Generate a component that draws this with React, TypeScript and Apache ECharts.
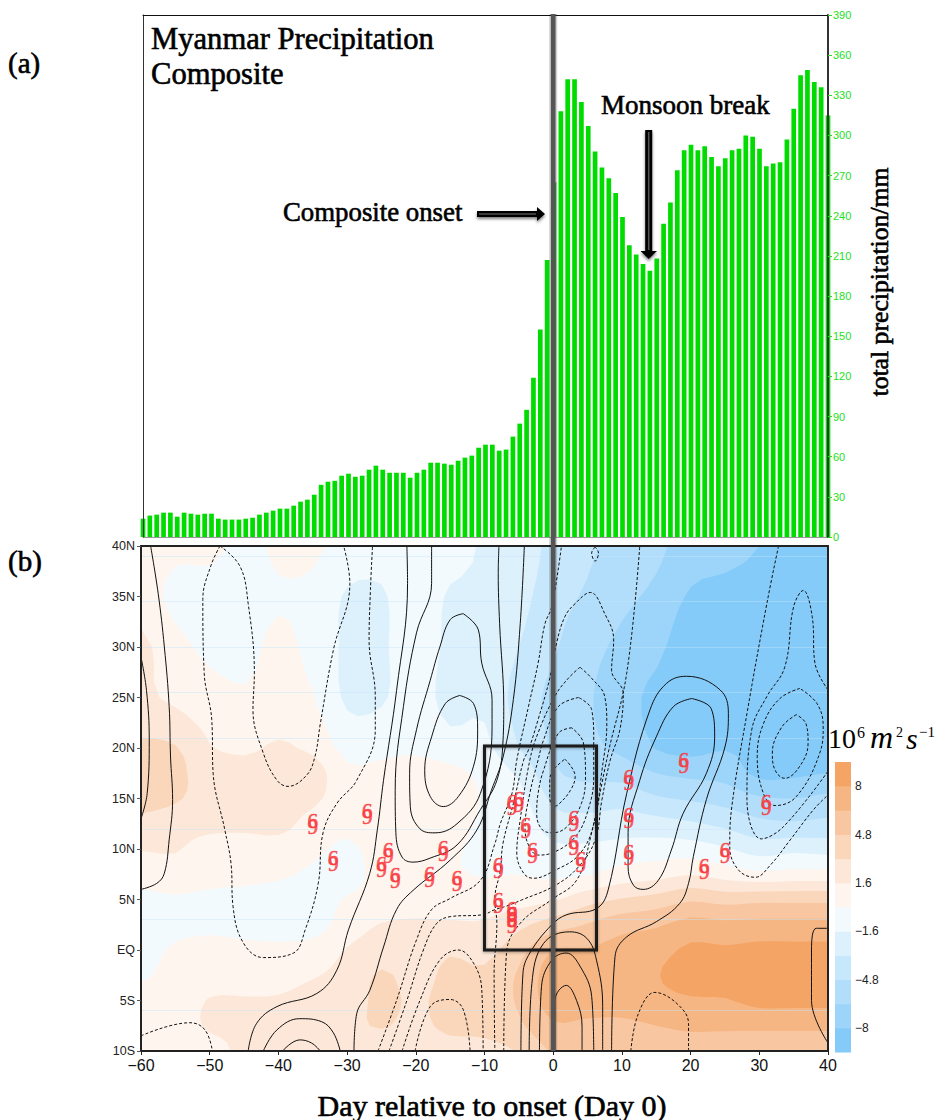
import React, { useEffect, useRef } from "react";
import * as echarts from "echarts";

const rainDays: number[] = [];
for (let d = -60; d <= 40; d++) rainDays.push(d);
const rainValues = [
  13.7, 16, 16.7, 18.2, 18.2, 15.2, 18.2, 17.4, 16.7, 17.4, 17.4, 13.7, 13, 13, 13, 13.7, 14.4, 16.7, 18.2, 19.7,
  21.2, 21.2, 23.4, 26.4, 27.9, 31.6, 39, 41.3, 42, 45.8, 47.3, 45, 45.8, 50.3, 53.3, 50.3, 48, 48, 48, 44.3,
  48, 50.3, 55.5, 55.5, 54.8, 54, 57, 59.3, 60.8, 66.7, 69, 69, 64.5, 65.3, 75, 84.7,
  95, 119, 155, 207, 265, 318, 342, 342, 325, 307, 288, 276, 268, 257, 239, 218, 211, 204, 199, 208,
  234, 250, 274, 289, 293, 289, 292, 284, 277, 283, 289, 290, 300, 299, 290, 277, 279, 280, 297, 320, 345, 349, 340, 336, 315,
];

const shadingLevels = [-100, -8, -6.4, -4.8, -3.2, -1.6, 0, 1.6, 3.2, 4.8, 6.4, 8];
const shadingColors = ["#84CBFA", "#9DD5FA", "#B2DEFB", "#C7E7FC", "#DDF1FD", "#F3FAFE", "#FEF5EF", "#FCE7D8", "#FAD6BA", "#F8C6A0", "#F6B683", "#F4A566"];
const colorbarLabels = [-8, -4.8, -1.6, 1.6, 4.8, 8];

const shadingLats = [40, 35, 30, 25, 20, 17.5, 15, 12.5, 10, 7.5, 5, 2.5, 0, -2.5, -5, -7.5, -10];
const shadingDays = [-60, -55, -50, -45, -40, -35, -30, -25, -20, -15, -10, -5, 0, 5, 10, 15, 20, 25, 30, 35, 40];
const shadingByDay = [
  [0.8, 0.8, 2, 2, 3.5, 4, 4, 2.6, 1.7, 0.5, -0.3, -0.6, -0.5, -0.2, 0.5, 0.5, 0.5],
  [0.3, -0.4, 0.5, 1.2, 3.3, 3.5, 3.4, 2.2, 1.7, 1, -0.2, -0.4, 0.2, 0.5, 0.7, 0.8, 0.8],
  [0.3, -0.5, -0.3, 0.6, 1.7, 2.6, 2.5, 2, 1, 0.5, -0.3, -0.3, 0.5, 0.8, 1.7, 1.8, 0.9],
  [-0.3, -0.5, -0.4, 0.2, 1.3, 2.2, 2.4, 2, 0.8, 0.3, -0.3, -0.5, 0.4, 1, 1.7, 2, 2],
  [0.2, -0.1, 0.3, 0.6, 1.8, 2.5, 2.5, 2.2, 0.8, 0.2, -0.5, -0.5, 0.3, 1.2, 1.7, 2.2, 2.2],
  [0.3, -0.4, -0.4, 0.1, 1.2, 2.4, 2, 0.9, 0.3, -0.2, -0.5, -0.6, 0.6, 1.5, 2, 2.4, 2.2],
  [-0.6, -1.8, -1.9, -1.9, -0.5, 0.3, 0.6, 0.3, -0.2, -0.4, 0.1, 0.7, 1.7, 2.1, 2.5, 2.8, 2.3],
  [-0.5, -1.9, -1.9, -1.8, -0.5, 0.5, 1, 0.8, 0.5, 0.4, 0.5, 1.7, 2.4, 3.4, 3.5, 3.3, 2.5],
  [-0.3, -0.2, -0.5, -0.8, -0.3, 0.8, 1.2, 1, 0.6, 0.6, 1, 1.8, 2.4, 2.6, 3, 2.8, 2.2],
  [-0.5, -1.9, -2, -2.2, -1, 0.5, 1.2, 1, 0.3, 0.2, 0.8, 1.8, 3, 3.6, 3.7, 3.6, 2.5],
  [-1.9, -1.9, -1.8, -1.9, -1.2, -0.5, -0.2, -0.4, -0.5, -0.1, 0.8, 1.8, 2.7, 3.5, 3.9, 3.6, 2.8],
  [-2, -2.6, -3.2, -3.9, -3.2, -1.9, -1, -0.6, -0.4, 0, 1, 2.8, 4.2, 5, 5, 4.5, 3.3],
  [-3.8, -4.2, -4.6, -5.2, -5, -4.5, -3.6, -2.4, -1.3, -0.3, 1.4, 4, 6.4, 7.2, 7.2, 6.2, 5],
  [-4.6, -5, -5.8, -6.2, -6, -5.2, -4, -2.6, -1.3, -0.1, 2.6, 4.9, 6.5, 7, 7.2, 6, 4.8],
  [-5.2, -6, -6.8, -7.4, -6.8, -5.4, -3.8, -2.4, -1, 0.7, 3.3, 5.8, 7, 7.4, 7.2, 6, 5],
  [-6, -6.8, -7.6, -8.4, -8.1, -6.4, -4.6, -2.6, -0.8, 1, 3.8, 6.2, 7.4, 7.9, 7.5, 6.4, 5],
  [-7.2, -8.2, -9, -9, -8.5, -6.8, -5, -3, -0.8, 1.5, 4.6, 7, 8.3, 8.8, 7.8, 6.8, 5.2],
  [-7.6, -8.4, -9, -9, -8.1, -7, -5.4, -3.6, -1.4, 0.9, 4.2, 6.8, 8.2, 8.7, 7.9, 6.8, 5],
  [-8, -8.6, -9, -9.2, -8.6, -8.4, -6.2, -4.4, -2.3, 0.4, 4.4, 6.9, 8.4, 8.9, 8.4, 6.8, 5],
  [-8.6, -8.8, -9, -9.2, -9, -8.3, -6.4, -4.6, -2, 0.6, 4.4, 6.9, 8.4, 8.9, 8.4, 6.8, 5],
  [-8.6, -8.8, -9, -9.2, -8.8, -8, -6, -4.4, -2.2, 0.6, 4.4, 6.9, 8.4, 8.9, 8.4, 6.8, 5],
];

const solidContours: number[][][] = [
  [[-58.6, 40], [-57.5, 35.3], [-56.6, 30], [-55.9, 24.1], [-55.7, 19.1], [-55.4, 14.9], [-55.9, 10.9], [-56.6, 7.6], [-57.7, 6.6], [-60, 6]],
  [[-60, 29], [-59.2, 25.7], [-58.8, 20.8], [-59.1, 15.5], [-60, 13]],
  [[-21.3, 40], [-21.2, 36.3], [-22.8, 25.7], [-24.7, 16.8], [-25.6, 11.9], [-26.7, 7.6], [-29.8, 2], [-31.5, -2], [-34.4, -4.3], [-40.2, -5.6], [-43.2, -7.3], [-44.4, -10]],
  [[-17.7, 40], [-17.7, 36.3], [-19.9, 31.4], [-21.8, 24.1], [-23, 15.8], [-22.9, 11.6], [-22, 9.2], [-20.4, 8.7], [-17.9, 9.1], [-14, 10.4], [-10.6, 13.9], [-8.2, 16.8], [-7.3, 20.8], [-7.2, 24.1], [-7.8, 32.3], [-8, 37.3], [-7.9, 40]],
  [[-13.1, 33.3], [-15, 32.7], [-16.5, 30], [-17.9, 26.7], [-19.9, 21.8], [-20.9, 17.5], [-20.8, 14.2], [-19.4, 12], [-17.2, 11.6], [-14, 12.5], [-10.6, 15.5], [-8.9, 22.1], [-8.9, 24.8], [-10.4, 28.4], [-10.9, 31.7], [-13.1, 33.3]],
  [[-13.6, 25.2], [-15.7, 24.4], [-17.7, 21.1], [-18.7, 17.8], [-17.9, 15.2], [-16, 14.2], [-13.8, 15.2], [-11.6, 18.2], [-11, 21.8], [-11.6, 24.4], [-13.6, 25.2]],
  [[-4.2, 40], [-4.8, 32.3], [-5.8, 24.8], [-7.3, 19.1], [-9, 15.8], [-11.1, 11.9], [-15, 8.9], [-20.4, 5.9], [-22.8, 4], [-24.7, 0.3], [-26.7, -4], [-28.6, -6.3], [-29, -10]],
  [[-42.2, -10], [-40.2, -7.9], [-36.9, -6.8], [-33.7, -7.1], [-32, -8.2], [-31, -10]],
  [[-39.4, -10], [-36.9, -8.9], [-35.2, -9.2], [-33.9, -10]],
  [[-4.7, -10], [-4.4, -2.3], [-3.4, -0.3], [-0.2, 2.5], [2, 3.5], [6.3, 4.1], [8, 5.95], [10.7, 15.5], [14.1, 23.8], [16.5, 26.4], [19.4, 27.1], [24.3, 25.75], [25.5, 23.4], [25, 20.1], [22.3, 14.9], [20.4, 9.25], [19.7, 6.6], [18.4, 4.6], [15, 2.8], [10.7, 1.3], [9, -0.65], [8.5, -10]],
  [[20.15, 24.9], [17.5, 24.1], [15, 21.1], [12.6, 16.8], [10.9, 11.6], [10.9, 8.3], [11.7, 6.4], [13.1, 6], [15.3, 6.9], [17.2, 9.9], [18.9, 13.5], [22.3, 17.5], [23.5, 21.1], [23, 23.9], [20.15, 24.9]],
  [[-3.5, -10], [-3.1, -3.3], [-1.4, 0.65], [2.4, 1.8], [4.9, 1.15], [6.3, -1], [7.2, -5.6], [7.2, -10]],
  [[-2, -10], [-1.7, -3.6], [-0.2, -1], [1.9, -0.3], [3.9, -1.6], [5.6, -4.6], [5.9, -10]],
  [[0.25, -10], [0.25, -5], [1.9, -3.5], [3.4, -5], [4.2, -7.6], [4.2, -10]],
  [[40, 2.15], [38.3, 2.15], [37.6, 0], [37.6, -5], [40, -9.2]],
];

const dashedContours: number[][][] = [
  [[-48.5, 40], [-49.8, 38.1], [-51, 34.7], [-50.8, 27.4], [-49.7, 22.8], [-49.5, 17.5], [-47.8, 11.9], [-46.9, 8.6], [-46.6, 4.3], [-45.1, 0.7], [-42.2, -0.75], [-37.8, -0.3], [-36.1, 2], [-34.2, 6.6], [-33.5, 11.6], [-31.5, 14.5], [-28.6, 16.8], [-25.9, 21.8], [-25.9, 25.1], [-26.8, 30.7], [-26.6, 35.7], [-26.3, 40]],
  [[-48.5, 40], [-45.6, 38], [-44.4, 34.3], [-43.5, 27.4], [-43.7, 23.8], [-42.2, 19.5], [-40.2, 16.8], [-38.6, 16.2], [-35.9, 17.3], [-34.7, 19.1], [-33.9, 22.4], [-32, 29.7], [-29.6, 36.3], [-30.5, 40]],
  [[-60, -8.5], [-52.9, -7.2], [-50.7, -7.9], [-49.6, -10]],
  [[-25.5, -10], [-22.8, -5], [-19.9, 1], [-17.7, 4], [-15, 5.1], [-10.6, 6.9], [-8.5, 10.5], [-7.7, 12.5], [-6, 15.5], [-5.3, 18.8], [-3.6, 24.1], [-2.2, 28.4], [-1.2, 32.3], [-0.2, 34], [1.2, 40]],
  [[-23.9, -10], [-21.3, -5], [-18.9, 0], [-17, 2.6], [-15, 3.3], [-10.2, 3.5], [-8.5, 4], [-7, 4.3], [-4.6, 4.95], [0.3, 6.4], [3.7, 8.25], [6.1, 10.9], [7.1, 14.9], [8.3, 18.8], [9.7, 21.8], [10.2, 25.4], [8.5, 27.7], [8.8, 30.7], [7.5, 33.3], [5.4, 35.4], [3.2, 34.3], [1.7, 33], [0.5, 30.4], [-0.5, 26.9], [-2.2, 22.8], [-3.6, 19.8], [-4.3, 18.8], [-5.8, 14.5], [-7.3, 10.6], [-7.7, 7.9], [-8.5, 5], [-8.2, 2.6], [-8.6, -2.3], [-8.5, -10]],
  [[3.9, 28], [2.2, 26.9], [0.3, 25.2], [-2.2, 21.5], [-3.4, 18.8], [-4.8, 12.9], [-5.3, 9.6], [-4.3, 7.6], [-2.9, 7.1], [0.3, 7.9], [3.7, 9.4], [5.8, 12.2], [7.1, 17.8], [7.8, 22.4], [7.5, 25.1], [5.6, 26.9], [3.9, 28]],
  [[3.7, 25], [0.75, 24.1], [-1.4, 20.8], [-2.2, 18.8], [-3.4, 15.5], [-4.1, 12.2], [-3.6, 10.4], [-2.2, 9.4], [-0.2, 9.6], [3.2, 11.2], [5.1, 13.9], [5.9, 17.2], [5.9, 20.8], [5.6, 23.8], [3.7, 25]],
  [[2.7, 22], [0.75, 21.45], [-1.4, 17.8], [-2.2, 15.5], [-2.4, 13.5], [-1.7, 12], [-0.2, 11.6], [2, 12.2], [4.1, 14.5], [4.7, 17.2], [4.4, 20.5], [2.7, 22]],
  [[1.7, 18.9], [3.2, 17.2], [2.5, 15.8], [0.75, 14.4], [0, 14.2], [-0.5, 15.2], [-0.5, 16.8], [0, 17.8], [1.7, 18.9]],
  [[-7.2, -10], [-6.8, -0.3], [-4.8, 2.65], [-0.2, 5], [3.4, 6.9], [5.35, 10.9], [8, 19.5], [10.7, 27.4], [12.6, 40]],
  [[6.1, 39.9], [5.6, 39.3], [6.1, 38.5], [6.6, 39.3], [6.1, 39.9]],
  [[-22, -10], [-19.4, -5], [-16.5, -1], [-13.8, 0], [-11.6, -1.3], [-10.4, -3.9], [-10.2, -10]],
  [[-20.1, -10], [-17.9, -5.6], [-15, -4.9], [-13.1, -5.9], [-12.1, -10]],
  [[11.3, -10], [12.4, -6.3], [14.8, -4.2], [18, -5.3], [19.7, -7.3], [19.7, -10]],
  [[32.8, 40], [31.1, 34.3], [28.2, 23.4], [26, 14.2], [25.7, 10.2], [27, 7.9], [29.4, 7.2], [31.6, 8.4], [34.5, 10.9], [37.9, 13.9], [40, 15.35]],
  [[40, 25.75], [38.1, 28.4], [37.7, 33], [36.4, 35.6], [35, 34], [33.7, 28], [31.1, 25.1], [28.9, 21.8], [28.2, 14.9], [30.3, 11], [33.5, 12.2], [40, 17.7]],
  [[35.9, 25.9], [33, 24.9], [30.6, 22.4], [29.7, 19.15], [30.6, 15.5], [32.3, 14.3], [35.4, 15.2], [38.8, 19.5], [39.3, 22.1], [38.4, 24.4], [35.9, 25.9]],
  [[35.4, 23.3], [33.3, 22.1], [31.9, 19.5], [32.3, 17.8], [33.7, 17], [35.9, 18.2], [37.1, 20.5], [36.8, 22.4], [35.4, 23.3]],
];

const stormPoints = [
  [-35, 12.45], [-32, 8.85], [-27.05, 13.45], [-24, 9.65], [-25, 8.2], [-23, 7.15], [-18, 7.25], [-16, 9.8], [-14, 6.8],
  [-8, 8.15], [-8, 4.7], [-6, 3.8], [-6, 3.3], [-6, 2.65], [-6, 14.4], [-5, 14.7], [-4, 12.05], [-3, 9.6],
  [3, 12.8], [3, 10.4], [4, 8.75], [11, 16.85], [11, 13.1], [11, 9.4], [19, 18.5], [22, 8], [25, 9.6], [31, 14.35],
];

const faintLats = [39, 34.5, 30, 25.5, 21, 12, 3, -6];
const domainBox = [[-10, 0], [6.3, 0], [6.3, 20.2], [-10, 20.2], [-10, 0]];
const onsetLine = [[0, 0], [0, 1]];

const SERIF = "'Liberation Serif', 'DejaVu Serif', serif";
const SANS = "'Liberation Sans', Arial, sans-serif";

function catmull(p0: number, p1: number, p2: number, p3: number, t: number) {
  return 0.5 * (2 * p1 + (p2 - p0) * t + (2 * p0 - 5 * p1 + 4 * p2 - p3) * t * t + (3 * p1 - p0 - 3 * p2 + p3) * t * t * t);
}
function fine(axis: number[], k: number) {
  const out: number[] = [];
  for (let i = 0; i < axis.length - 1; i++) for (let j = 0; j < k; j++) out.push(axis[i] + ((axis[i + 1] - axis[i]) * j) / k);
  out.push(axis[axis.length - 1]);
  return out;
}
const K = 3;
const fineDays = fine(shadingDays, K);
const fineLats = fine(shadingLats, K);
function sampleField() {
  const nx = shadingDays.length, ny = shadingLats.length;
  const at = (i: number, j: number) => shadingByDay[Math.max(0, Math.min(nx - 1, i))][Math.max(0, Math.min(ny - 1, j))];
  const rows: number[][] = [];
  for (let a = 0; a < fineDays.length; a++) {
    const i = Math.min(nx - 2, Math.floor(a / K));
    const s = a / K - i;
    const col: number[] = [];
    for (let b = 0; b < fineLats.length; b++) {
      const j = Math.min(ny - 2, Math.floor(b / K));
      const t = b / K - j;
      const c = [-1, 0, 1, 2].map((d) => catmull(at(i + d, j - 1), at(i + d, j), at(i + d, j + 1), at(i + d, j + 2), t));
      col.push(catmull(c[0], c[1], c[2], c[3], s));
    }
    rows.push(col);
  }
  return rows;
}
const fineField = sampleField();

function levelPath(level: number, coord: (p: number[]) => number[]) {
  const parts: string[] = [];
  const px = fineDays.map((d) => coord([d, 0])[0]);
  const py = fineLats.map((l) => coord([0, l])[1]);
  const fmt = (n: number) => n.toFixed(1);
  for (let b = 0; b < fineLats.length - 1; b++) {
    let runStart = -1;
    for (let a = 0; a < fineDays.length - 1; a++) {
      const v = [fineField[a][b], fineField[a + 1][b], fineField[a + 1][b + 1], fineField[a][b + 1]];
      const inside = v.every((x) => x >= level);
      if (inside) {
        if (runStart < 0) runStart = a;
      } else if (runStart >= 0) {
        parts.push(`M${fmt(px[runStart])} ${fmt(py[b])}L${fmt(px[a])} ${fmt(py[b])}L${fmt(px[a])} ${fmt(py[b + 1])}L${fmt(px[runStart])} ${fmt(py[b + 1])}Z`);
        runStart = -1;
      }
      if (!inside && v.some((x) => x >= level)) {
        const cx = [px[a], px[a + 1], px[a + 1], px[a]];
        const cy = [py[b], py[b], py[b + 1], py[b + 1]];
        const pts: string[] = [];
        for (let e = 0; e < 4; e++) {
          const f = (e + 1) % 4;
          if (v[e] >= level) pts.push(`${fmt(cx[e])} ${fmt(cy[e])}`);
          if (v[e] >= level !== v[f] >= level) {
            const r = (level - v[e]) / (v[f] - v[e]);
            pts.push(`${fmt(cx[e] + (cx[f] - cx[e]) * r)} ${fmt(cy[e] + (cy[f] - cy[e]) * r)}`);
          }
        }
        parts.push("M" + pts.join("L") + "Z");
      }
    }
    if (runStart >= 0) {
      const a = fineDays.length - 1;
      parts.push(`M${fmt(px[runStart])} ${fmt(py[b])}L${fmt(px[a])} ${fmt(py[b])}L${fmt(px[a])} ${fmt(py[b + 1])}L${fmt(px[runStart])} ${fmt(py[b + 1])}Z`);
    }
  }
  return parts.join("");
}

const hiddenAxis = { axisLine: { show: false, onZero: false }, axisTick: { show: false }, axisLabel: { show: false }, splitLine: { show: false } };
const frameLine = { show: true, onZero: false, lineStyle: { color: "#222", width: 2 } };

function buildOption() {
  const lines: any[] = [];
  solidContours.forEach((c, i) =>
    lines.push({ type: "line", name: "solid" + i, xAxisIndex: 1, yAxisIndex: 2, data: c, symbol: "none", smooth: 0.4, z: 5, lineStyle: { color: "#111", width: 1 } })
  );
  dashedContours.forEach((c, i) =>
    lines.push({ type: "line", name: "dashed" + i, xAxisIndex: 1, yAxisIndex: 2, data: c, symbol: "none", smooth: 0.4, z: 5, lineStyle: { color: "#111", width: 1, type: [3, 2] } })
  );
  const stormSeries = (glyph: string, dy: number) => ({
    type: "scatter", name: "storm" + glyph, xAxisIndex: 1, yAxisIndex: 2, data: stormPoints, symbolSize: 1, z: 8,
    itemStyle: { color: "transparent" },
    label: { show: true, position: "inside", formatter: glyph, offset: [0, dy], color: "#F93A40", fontFamily: SERIF, fontSize: 21, textBorderColor: "#F93A40", textBorderWidth: 0.6 },
  });
  const headingText = (text: string, x: number, y: number, size: number, extra: any = {}) => ({
    type: "text", x, y, z: 60,
    style: { text, fontFamily: SERIF, fontSize: size, fill: "#000", stroke: "#000", lineWidth: 0.6, verticalAlign: "middle", ...extra },
  });
  const unitText = (text: string, x: number, baseline: number, size: number, italic = false) => ({
    type: "text", x, y: baseline - 0.33 * size, z: 60,
    style: { text, fontFamily: SERIF, fontStyle: italic ? "italic" : "normal", fontSize: size, fill: "#000", verticalAlign: "middle" },
  });
  const arrowShadow = { shadowBlur: 3, shadowOffsetY: 2, shadowColor: "rgba(0,0,0,0.5)" };
  return {
    animation: false,
    backgroundColor: "#fff",
    grid: [
      { left: 143, top: 15, width: 685, height: 522 },
      { left: 141, top: 546, width: 687, height: 505 },
      { left: 835, top: 762, width: 16, height: 290 },
      { left: 141, top: 14, width: 687, height: 1037 },
    ],
    xAxis: [
      { type: "value", gridIndex: 0, min: -60, max: 40, ...hiddenAxis, axisLine: { show: true, onZero: false, lineStyle: { color: "#999", width: 1 } } },
      {
        type: "value", gridIndex: 1, min: -60, max: 40, interval: 10, z: 10, position: "bottom",
        axisLine: frameLine, axisTick: { show: true, length: 4, lineStyle: { color: "#222" } }, splitLine: { show: false },
        axisLabel: { color: "#111", fontFamily: SANS, fontSize: 16, margin: 6, formatter: (v: number) => (v < 0 ? "\u2212" + Math.abs(v) : String(v)) },
      },
      { type: "value", gridIndex: 1, min: -60, max: 40, position: "top", z: 10, ...hiddenAxis, axisLine: frameLine },
      { type: "value", gridIndex: 0, min: -60, max: 40, position: "top", z: 10, ...hiddenAxis, axisLine: { show: true, onZero: false, lineStyle: { color: "#111", width: 1 } } },
      { type: "value", gridIndex: 2, min: 0, max: 1, ...hiddenAxis },
      { type: "value", gridIndex: 3, min: -60, max: 40, ...hiddenAxis },
    ],
    yAxis: [
      {
        type: "value", gridIndex: 0, min: 0, max: 390, interval: 30, position: "right", z: 10,
        axisLine: { show: true, onZero: false, lineStyle: { color: "#333", width: 2 } },
        axisTick: { show: true, length: 4, lineStyle: { color: "#2BDD2B" } }, splitLine: { show: false },
        axisLabel: { color: "#22E022", fontFamily: SANS, fontSize: 11, margin: 5 },
      },
      { type: "value", gridIndex: 0, min: 0, max: 390, position: "left", z: 10, ...hiddenAxis, axisLine: { show: true, onZero: false, lineStyle: { color: "#333", width: 1 } } },
      {
        type: "value", gridIndex: 1, min: -10, max: 40, interval: 5, position: "left", z: 10,
        axisLine: frameLine, axisTick: { show: true, length: 4, lineStyle: { color: "#555" } }, splitLine: { show: false },
        axisLabel: { color: "#222", fontFamily: SANS, fontSize: 12.5, margin: 6, formatter: (v: number) => (v === 0 ? "EQ" : v > 0 ? v + "N" : -v + "S") },
      },
      { type: "value", gridIndex: 1, min: -10, max: 40, position: "right", z: 10, ...hiddenAxis, axisLine: frameLine },
      {
        type: "value", gridIndex: 2, min: -9.6, max: 9.6, position: "right",
        axisLine: { show: false, onZero: false }, axisTick: { show: false }, splitLine: { show: false },
        axisLabel: { customValues: colorbarLabels, color: "#222", fontFamily: SANS, fontSize: 12, margin: 4, formatter: (v: number) => (v < 0 ? "\u2212" + Math.abs(v) : String(v)) },
      },
      { type: "value", gridIndex: 3, min: 0, max: 1, ...hiddenAxis },
    ],
    series: [
      {
        type: "bar", name: "total precipitation", xAxisIndex: 0, yAxisIndex: 0, barWidth: 4.7, z: 3, clip: true,
        data: rainDays.map((d, i) => [d, rainValues[i]]), itemStyle: { color: "#00DC00" },
      },
      {
        type: "custom", name: "shading", xAxisIndex: 1, yAxisIndex: 2, z: 2, clip: false, silent: true,
        data: shadingLevels.map((l, i) => [i, l]), encode: { x: 0, y: 1 },
        renderItem: (params: any, api: any) => ({
          type: "path",
          shape: { pathData: levelPath(shadingLevels[params.dataIndex], (p) => api.coord(p)) },
          style: { fill: shadingColors[params.dataIndex] },
        }),
      },
      {
        type: "line", name: "faint lines", xAxisIndex: 1, yAxisIndex: 2, data: [], z: 3, symbol: "none",
        markLine: {
          silent: true, symbol: "none", label: { show: false }, animation: false,
          lineStyle: { color: "rgba(195,228,250,0.45)", width: 1, type: "solid" },
          data: faintLats.map((l) => ({ yAxis: l })),
        },
      },
      ...lines,
      { type: "line", name: "box", xAxisIndex: 1, yAxisIndex: 2, data: domainBox, symbol: "none", z: 7, clip: false, lineStyle: { color: "#1a1a1a", width: 3, join: "miter", cap: "square", shadowBlur: 3, shadowColor: "rgba(0,0,0,0.35)", shadowOffsetY: 1 } },
      stormSeries("6", -3),
      stormSeries("9", 3),
      {
        type: "custom", name: "colorbar", xAxisIndex: 4, yAxisIndex: 4, z: 3, clip: false, silent: true,
        data: shadingColors.map((_, i) => [0, -9.6 + 1.6 * i]), encode: { x: 0, y: 1 },
        renderItem: (params: any, api: any) => {
          const i = params.dataIndex;
          const a = api.coord([0, -9.6 + 1.6 * i]);
          const b = api.coord([1, -9.6 + 1.6 * (i + 1)]);
          return { type: "rect", shape: { x: a[0], y: b[1], width: b[0] - a[0], height: a[1] - b[1] + 0.5 }, style: { fill: shadingColors[i] } };
        },
      },
      {
        type: "line", name: "onset glow", xAxisIndex: 5, yAxisIndex: 5, data: onsetLine, symbol: "none", z: 19, clip: false,
        lineStyle: { color: "rgba(0,0,0,0.18)", width: 8 },
      },
      {
        type: "line", name: "onset", xAxisIndex: 5, yAxisIndex: 5, data: onsetLine, symbol: "none", z: 20, clip: false,
        lineStyle: { color: "#555", width: 4.7 },
      },
    ],
    graphic: [
      headingText("(a)", 8, 63, 29),
      headingText("(b)", 8, 561, 29),
      headingText("Myanmar Precipitation", 151, 39, 30.6),
      headingText("Composite", 151, 74, 30.6),
      headingText("Monsoon break", 601, 105, 27),
      headingText("Composite onset", 283, 212, 26.8),
      { ...headingText("total precipitation/mm", 879, 282, 25.7, { align: "center" }), rotation: Math.PI / 2 },
      headingText("Day relative to onset (Day 0)", 492, 1105, 30, { align: "center" }),
      { type: "polygon", z: 55, shape: { points: [[477, 211], [537, 211], [537, 207], [545, 214], [537, 221], [537, 217], [477, 217]] }, style: { fill: "#000", ...arrowShadow } },
      { type: "line", z: 56, shape: { x1: 479, y1: 214, x2: 536, y2: 214 }, style: { stroke: "#777", lineWidth: 1 } },
      { type: "polygon", z: 55, shape: { points: [[645.2, 130], [652.2, 130], [652.2, 251], [657, 251], [648.7, 259], [640.5, 251], [645.2, 251]] }, style: { fill: "#000", ...arrowShadow } },
      { type: "line", z: 56, shape: { x1: 648.7, y1: 132, x2: 648.7, y2: 250 }, style: { stroke: "#555", lineWidth: 1.5 } },
      unitText("10", 828, 748, 28),
      unitText("6", 857, 738, 16),
      unitText("m", 870, 748, 32, true),
      unitText("2", 896, 737, 14),
      unitText("s", 906, 748, 30, true),
      unitText("\u22121", 919, 737, 15),
    ],
  };
}

export default function App() {
  const ref = useRef<HTMLDivElement>(null);
  useEffect(() => {
    document.body.style.margin = "0";
    const chart = echarts.init(ref.current!, undefined, { renderer: "svg" });
    chart.setOption(buildOption() as any);
    return () => chart.dispose();
  }, []);
  return <div ref={ref} style={{ width: 939, height: 1120, display: "block", background: "#fff" }} />;
}
